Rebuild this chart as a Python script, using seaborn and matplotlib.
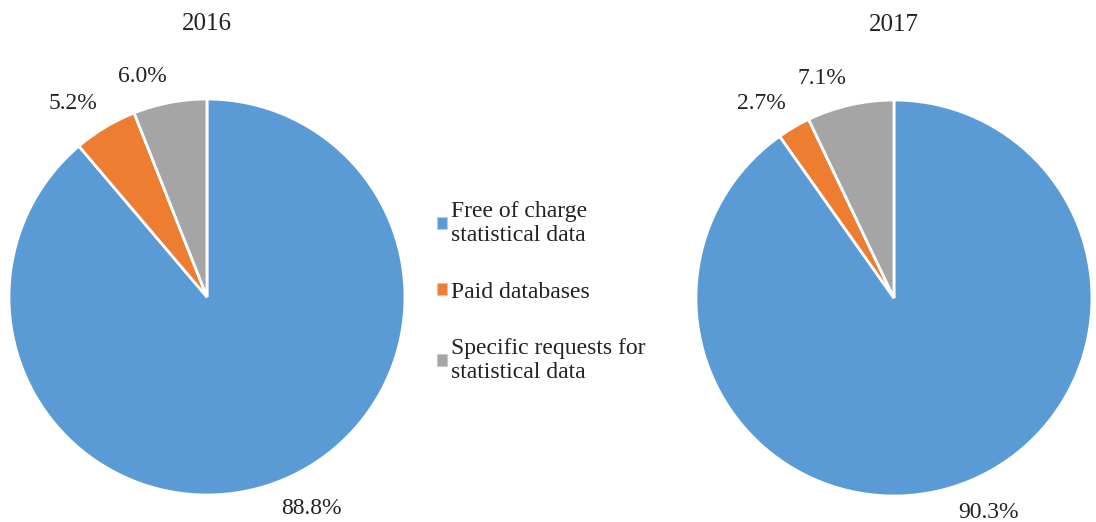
import matplotlib.pyplot as plt
import seaborn as sns
from matplotlib.patches import Patch

sns.set_theme(style="white")
plt.rcParams['font.family'] = ['Liberation Serif', 'DejaVu Serif']

categories = ["Free of charge\nstatistical data", "Paid databases",
              "Specific requests for\nstatistical data"]
years = ["2016", "2017"]
shares_2016 = [88.8, 5.2, 6.0]
shares_2017 = [90.3, 2.7, 7.1]
colors = ["#5B9BD5", "#ED7D31", "#A5A5A5"]

fig = plt.figure(figsize=(10.96, 5.22), dpi=100)
ax1 = fig.add_axes([0.0082, 0.0517, 0.3613, 0.7586])
ax2 = fig.add_axes([0.635, 0.0498, 0.3613, 0.7586])

for ax, year, vals in [(ax1, years[0], shares_2016), (ax2, years[1], shares_2017)]:
    labels_iter = iter(vals)
    wedges, texts, autotexts = ax.pie(
        vals, colors=colors, startangle=90, counterclock=False,
        autopct=lambda p, it=labels_iter: f'{next(it):.1f}%', pctdistance=1.08,
        wedgeprops=dict(edgecolor='white', linewidth=2),
        textprops=dict(fontsize=17, color='#222222'))
    for w in wedges:
        w.set_clip_on(False)
    # outside labels anchored by their nearest corner, as in office charts
    for t in autotexts:
        x, y = t.get_position()
        t.set_ha('left' if x > 0 else 'right')
        t.set_va('bottom' if y > 0 else 'top')
    ax.set_xlim(-1, 1)
    ax.set_ylim(-1, 1)
    ax.set_aspect('equal')
    ax.axis('off')
    ax.set_title(year, fontsize=18, pad=50, color='#222222')

handles = [Patch(facecolor=c, edgecolor='#C8C8C8', linewidth=0.8) for c in colors]
fig.legend(handles, categories, loc='center', bbox_to_anchor=(0.494, 0.44),
           frameon=False, fontsize=17, handlelength=0.4, handleheight=0.4,
           handletextpad=0.2, labelspacing=1.5, labelcolor='#222222')

plt.savefig('out.png', dpi=100)
